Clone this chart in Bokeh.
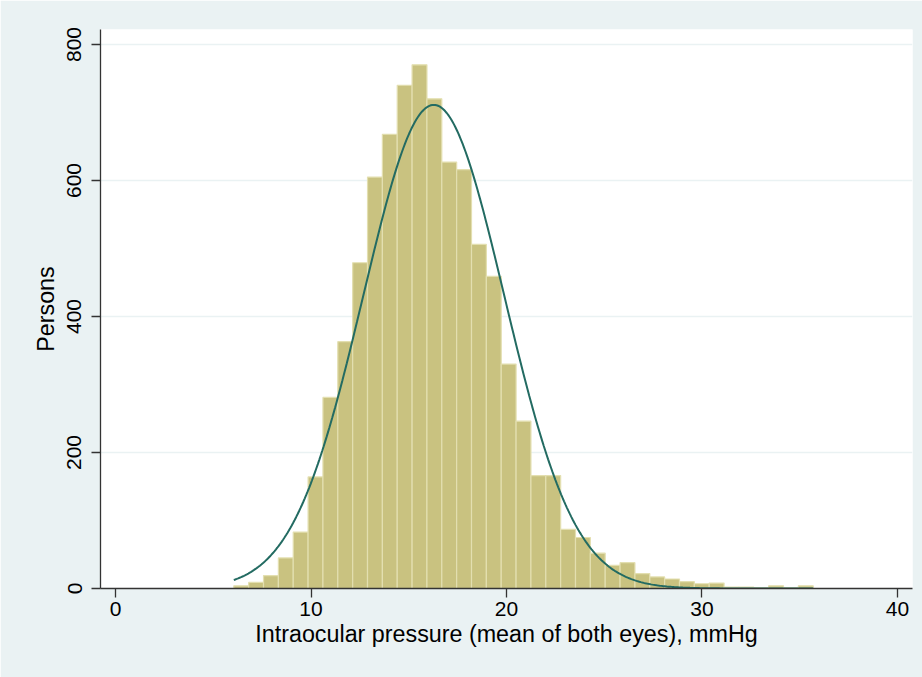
import math
from bokeh.plotting import figure
from bokeh.models import Range1d, FixedTicker, ColumnDataSource
from bokeh.embed import file_html
from bokeh.resources import INLINE

# ---- data ----
bin_start = 6.05          # mmHg, left edge of first bin
bin_width = 0.76          # mmHg
counts = [4, 9, 19, 45, 83, 164, 281, 363, 479, 605,
          668, 740, 770, 720, 627, 616, 506, 459, 330, 246,
          166, 166, 87, 75, 52, 34, 38, 22, 17, 14,
          10, 7, 8, 2, 2, 1, 4, 1, 4]
# fitted normal curve parameters
curve_mean = 16.28
curve_sd = 3.6

x_ticks = [0, 10, 20, 30, 40]
y_ticks = [0, 200, 400, 600, 800]
x_title = "Intraocular pressure (mean of both eyes), mmHg"
y_title = "Persons"

# ---- derived ----
n_bins = len(counts)
lefts = [bin_start + i * bin_width for i in range(n_bins)]
rights = [l + bin_width for l in lefts]
src = ColumnDataSource(dict(left=lefts, right=rights, top=counts, bottom=[0] * n_bins))

N = sum(counts)
x_lo, x_hi = bin_start, bin_start + n_bins * bin_width
steps = 400
cx = [x_lo + (x_hi - x_lo) * k / steps for k in range(steps + 1)]
cy = [N * bin_width / (curve_sd * math.sqrt(2 * math.pi)) *
      math.exp(-0.5 * ((v - curve_mean) / curve_sd) ** 2) for v in cx]

FONT = "Liberation Sans"
BG = "#eaf2f3"
AX = "#333333"

p = figure(width=922, height=677, output_backend="svg", toolbar_location=None,
           x_range=Range1d(-0.77, 40.77), y_range=Range1d(0, 822),
           min_border_left=100, min_border_right=10, min_border_top=29,
           min_border_bottom=89)
p.background_fill_color = "white"
p.border_fill_color = BG
p.outline_line_color = None

p.quad(left="left", right="right", top="top", bottom="bottom", source=src,
       fill_color="#c9c280", line_color="#e3dfb0", line_width=1.2)
p.line(cx, cy, line_color="#236b62", line_width=2)

p.xgrid.visible = False
p.ygrid.ticker = FixedTicker(ticks=y_ticks)
p.ygrid.grid_line_color = BG
p.ygrid.grid_line_width = 1.6

for ax, ticks in ((p.xaxis[0], x_ticks), (p.yaxis[0], y_ticks)):
    ax.ticker = FixedTicker(ticks=ticks)
    ax.axis_line_color = AX
    ax.axis_line_width = 1.3
    ax.major_tick_line_color = AX
    ax.major_tick_line_width = 1.3
    ax.major_tick_out = 9
    ax.major_tick_in = 0
    ax.minor_tick_line_color = None
    ax.major_label_text_font = FONT
    ax.major_label_text_font_size = "21px"
    ax.major_label_text_color = "black"
    ax.axis_label_text_font = FONT
    ax.axis_label_text_font_size = "23.3px"
    ax.axis_label_text_font_style = "normal"
    ax.axis_label_text_color = "black"

p.xaxis.axis_label = x_title
p.yaxis.axis_label = y_title
p.xaxis.major_label_standoff = 4
p.xaxis.axis_label_standoff = 2
p.yaxis.major_label_orientation = "vertical"
p.yaxis.major_label_standoff = 10
p.yaxis.axis_label_standoff = 6

open("out.html", "w").write(file_html(p, INLINE))
